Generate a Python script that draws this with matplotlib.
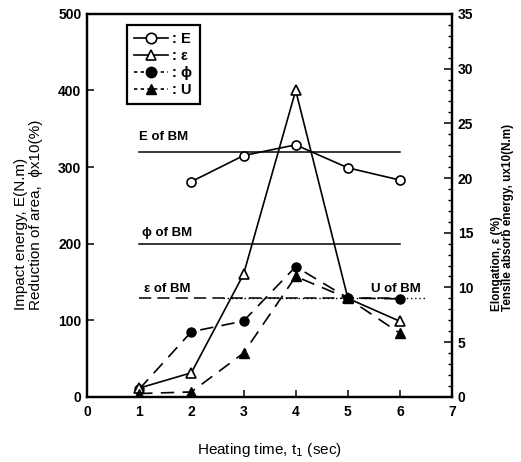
import matplotlib
matplotlib.use("Agg")
import matplotlib.pyplot as plt
from matplotlib.lines import Line2D
from matplotlib.ticker import MultipleLocator

plt.rcParams["font.family"] = ["Liberation Sans", "DejaVu Sans"]

# Datos
tiempo = [1, 2, 3, 4, 5, 6]
E = [None, 281, 315, 329, 299, 283]          # eje izquierdo
phi = [10, 85, 99, 170, 129, 128]            # eje izquierdo
eps = [0.8, 2.2, 11.2, 28.0, 9.0, 6.9]       # eje derecho
U = [0.3, 0.45, 4.0, 11.0, 9.0, 5.8]         # eje derecho

E_bm = 320
phi_bm = 200
eps_bm = 9.0
U_bm = 9.0

fig = plt.figure(figsize=(5.21, 4.62), dpi=100)
ax = fig.add_axes([0.167, 0.141, 0.701, 0.829])
ax2 = ax.twinx()

lw = 1.2
ms = 6.5

# Lineas de referencia (BM)
ax.plot([1, 6], [E_bm, E_bm], color="black", lw=1.1)
ax.plot([1, 6], [phi_bm, phi_bm], color="black", lw=1.1)
ax2.plot([1, 6], [eps_bm, eps_bm], color="black", lw=1.1, dashes=(8, 4))
ax2.plot([2.6, 6.5], [U_bm, U_bm], color="black", lw=1.0, ls=(0, (1, 2)))

# Series
tE = [t for t, v in zip(tiempo, E) if v is not None]
vE = [v for v in E if v is not None]
ax.plot(tE, vE, color="black", lw=lw, marker="o", ms=ms,
        mfc="white", mec="black", mew=1.2)
ax.plot(tiempo, phi, color="black", lw=lw, dashes=(8, 5), marker="o",
        ms=ms, mfc="black", mec="black")
ax2.plot(tiempo, eps, color="black", lw=lw, marker="^", ms=ms + 0.5,
         mfc="white", mec="black", mew=1.2)
ax2.plot(tiempo, U, color="black", lw=lw, dashes=(8, 5), marker="^",
         ms=ms + 0.5, mfc="black", mec="black")

ax.text(1.0, 335, "E of BM", fontsize=9.5, fontweight="bold")
ax.text(1.05, 210, "ϕ of BM", fontsize=9.5, fontweight="bold")
ax.text(1.1, 137, "ε of BM", fontsize=9.5, fontweight="bold")
ax.text(5.45, 137, "U of BM", fontsize=9.5, fontweight="bold")

ax.set_xlim(0, 7)
ax.set_ylim(0, 500)
ax2.set_ylim(0, 35)
ax.set_xticks(range(0, 8))
ax.set_yticks(range(0, 501, 100))
ax2.yaxis.set_major_locator(MultipleLocator(5))
ax2.yaxis.set_minor_locator(MultipleLocator(1))

for a in (ax, ax2):
    for s in a.spines.values():
        s.set_linewidth(1.6)

ax.tick_params(axis="both", direction="in", length=5, width=1.1,
               labelsize=10, pad=4)
ax.tick_params(axis="x", pad=6)
ax2.tick_params(axis="y", which="major", direction="in", length=6,
                width=1.1, labelsize=10, pad=4)
ax2.tick_params(axis="y", which="minor", direction="in", length=3,
                width=1.0)
for lab in ax.get_xticklabels() + ax.get_yticklabels() + ax2.get_yticklabels():
    lab.set_fontweight("bold")

ax.set_xlabel("Heating time, t$_1$ (sec)", fontsize=11, labelpad=16)

fig.text(0.040, 0.33, "Impact energy, E(N.m)", rotation=90,
         fontsize=11, ha="center", va="bottom")
fig.text(0.070, 0.33, "Reduction of area,  ϕx10(%)", rotation=90,
         fontsize=11, ha="center", va="bottom")
fig.text(0.954, 0.327, "Elongation, ε (%)", rotation=90, fontsize=8.5,
         fontweight="bold", ha="center", va="bottom")
fig.text(0.975, 0.327, "Tensile absorb energy, ux10(N.m)", rotation=90,
         fontsize=8.5, fontweight="bold", ha="center", va="bottom")

# Leyenda
handles = [
    Line2D([], [], color="black", lw=lw, marker="o", ms=ms + 1,
           mfc="white", mec="black", mew=1.2),
    Line2D([], [], color="black", lw=lw, marker="^", ms=ms + 1,
           mfc="white", mec="black", mew=1.2),
    Line2D([], [], color="black", lw=lw, dashes=(2, 2), marker="o",
           ms=ms + 1, mfc="black"),
    Line2D([], [], color="black", lw=lw, dashes=(2, 2), marker="^",
           ms=ms + 1, mfc="black"),
]
labels = [": E", ": ε", ": ϕ", ": U"]
leg = ax2.legend(handles, labels, loc="upper left",
                 bbox_to_anchor=(0.11, 0.971), borderaxespad=0,
                 fancybox=False, edgecolor="black", framealpha=1,
                 handlelength=2.3, handletextpad=0.3, labelspacing=0.2,
                 borderpad=0.5, prop={"weight": "bold", "size": 10.5})
leg.get_frame().set_linewidth(1.6)

plt.savefig("out.png", dpi=100)
